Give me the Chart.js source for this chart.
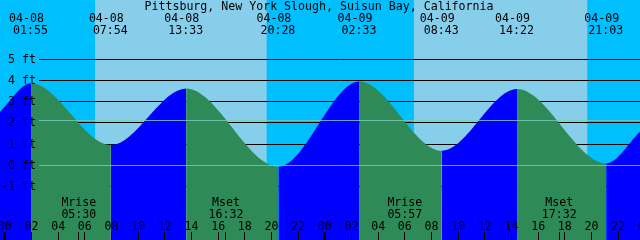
<!DOCTYPE html>
<html>
<head>
<meta charset="utf-8">
<script src="https://cdn.jsdelivr.net/npm/chart.js@4"></script>
<style>
  html, body { margin: 0; padding: 0; background: #00bfff; }
  canvas { display: block; }
</style>
</head>
<body>
<canvas id="tides" width="640" height="240"></canvas>
<script>
  "use strict";

  const stationName = "Pittsburg, New York Slough, Suisun Bay, California";

  // high / low tides
  const tideDates = ["04-08", "04-08", "04-08", "04-08", "04-09", "04-09", "04-09", "04-09"];
  const tideTimes = ["01:55", "07:54", "13:33", "20:28", "02:33", "08:43", "14:22", "21:03"];
  const tideLevels = [3.87, 0.96, 3.63, -0.06, 3.96, 0.69, 3.60, 0.09];
  // level at the left and right edge of the graph
  const edgeLevels = [2.53, 1.58];

  const sunriseTimes = ["04-08 06:43", "04-09 06:38"];
  const sunsetTimes = ["04-08 19:35", "04-09 19:38"];

  const moonNames = ["Mrise", "Mset", "Mrise", "Mset"];
  const moonDates = ["04-08", "04-08", "04-09", "04-09"];
  const moonTimes = ["05:30", "16:32", "05:57", "17:32"];

  const depthTicks = [5, 4, 3, 2, 1, 0, -1];
  const meanSeaLevel = 2.12;
  const hourTicks = [0, 2, 4, 6, 8, 10, 12, 14, 16, 18, 20, 22, 24, 26, 28, 30, 32, 34, 36, 38, 40, 42, 44, 46, 48];
  const hourLabels = ["00", "02", "04", "06", "08", "10", "12", "14", "16", "18", "20", "22",
                      "00", "02", "04", "06", "08", "10", "12", "14", "16", "18", "20", "22", "00"];

  const X_MIN = -0.4125, X_MAX = 47.5875;
  const FONT = '11.6px "DejaVu Sans Mono", "Liberation Mono", monospace';
  const NIGHT = "#00bfff", DAY = "#87ceeb", RISING = "#0000ff", FALLING = "#2e8b57";

  // hours since 04-08 00:00
  function toHours(date, time) {
    const day = Number(date.split("-")[1]) - 8;
    const [h, m] = time.split(":").map(Number);
    return day * 24 + h + m / 60;
  }
  function stampHours(s) {
    const parts = s.split(" ");
    return toHours(parts[0], parts[1]);
  }

  const tidePoints = [{ x: X_MIN, y: edgeLevels[0] }]
    .concat(tideLevels.map((v, i) => ({ x: toHours(tideDates[i], tideTimes[i]), y: v })))
    .concat([{ x: X_MAX, y: edgeLevels[1] }]);

  const backdrop = {
    id: "backdrop",
    beforeDatasetsDraw(chart) {
      const { ctx, chartArea: a } = chart;
      const xs = chart.scales.x, ys = chart.scales.y;
      ctx.save();
      ctx.fillStyle = NIGHT;
      ctx.fillRect(a.left, a.top, a.right - a.left, a.bottom - a.top);
      ctx.fillStyle = DAY;
      sunriseTimes.forEach(function (rise, i) {
        const x0 = xs.getPixelForValue(stampHours(rise));
        const x1 = xs.getPixelForValue(stampHours(sunsetTimes[i]));
        ctx.fillRect(x0, a.top, x1 - x0, a.bottom - a.top);
      });
      ctx.strokeStyle = "#000";
      ctx.lineWidth = 1;
      depthTicks.forEach(function (d) {
        if (d === 0) return;
        const y = Math.floor(ys.getPixelForValue(d)) + 0.5;
        ctx.beginPath();
        ctx.moveTo(39, y);
        ctx.lineTo(a.right, y);
        ctx.stroke();
      });
      ctx.restore();
    },
    afterDatasetsDraw(chart) {
      const { ctx, chartArea: a } = chart;
      const xs = chart.scales.x, ys = chart.scales.y;
      ctx.save();

      // datum and mean sea level
      ctx.strokeStyle = "rgba(120,205,190,0.8)";
      ctx.lineWidth = 1;
      [0, meanSeaLevel].forEach(function (d) {
        const y = Math.floor(ys.getPixelForValue(d)) + 0.5;
        ctx.beginPath();
        ctx.moveTo(39, y);
        ctx.lineTo(a.right, y);
        ctx.stroke();
      });

      ctx.font = FONT;
      ctx.fillStyle = "#000";
      ctx.textBaseline = "alphabetic";

      // depth labels
      ctx.textAlign = "right";
      depthTicks.forEach(function (d) {
        ctx.fillText(d + " ft", 36, Math.floor(ys.getPixelForValue(d)) + 4);
      });

      // title and tide times
      ctx.textAlign = "center";
      ctx.fillText(stationName, 319, 10);
      tideTimes.forEach(function (t, i) {
        const x = xs.getPixelForValue(toHours(tideDates[i], t));
        ctx.fillText(tideDates[i], x - 4.5, 22);
        ctx.fillText(t, x - 0.5, 34);
      });

      // moon events
      moonNames.forEach(function (name, i) {
        const x = xs.getPixelForValue(toHours(moonDates[i], moonTimes[i]));
        ctx.fillText(name, x, 206);
        ctx.fillText(moonTimes[i], x, 218);
        ctx.fillRect(Math.floor(x), 232, 1, 8);
      });

      // hour ticks
      hourTicks.forEach(function (h, i) {
        const x = xs.getPixelForValue(h) - 0.7;
        ctx.fillText(hourLabels[i], x, 230);
        if (h % 24 === 0) ctx.fillRect(Math.floor(x) - 1, 232, 3, 8);
        else ctx.fillRect(Math.floor(x), 232, 1, 8);
      });

      ctx.restore();
    }
  };

  new Chart(document.getElementById("tides"), {
    type: "line",
    data: {
      datasets: [{
        data: tidePoints,
        fill: "start",
        backgroundColor: RISING,
        borderColor: "rgba(0,0,0,0)",
        borderWidth: 0,
        pointRadius: 0,
        cubicInterpolationMode: "monotone",
        segment: {
          backgroundColor: (c) => (c.p1.parsed.y > c.p0.parsed.y ? RISING : FALLING)
        }
      }]
    },
    options: {
      responsive: false,
      animation: false,
      devicePixelRatio: 1,
      layout: { padding: 0 },
      plugins: { legend: { display: false }, tooltip: { enabled: false }, title: { display: false } },
      events: [],
      scales: {
        x: { type: "linear", min: X_MIN, max: X_MAX, display: false },
        y: { type: "linear", min: -3.52, max: 7.80, display: false }
      }
    },
    plugins: [backdrop]
  });
</script>
</body>
</html>
